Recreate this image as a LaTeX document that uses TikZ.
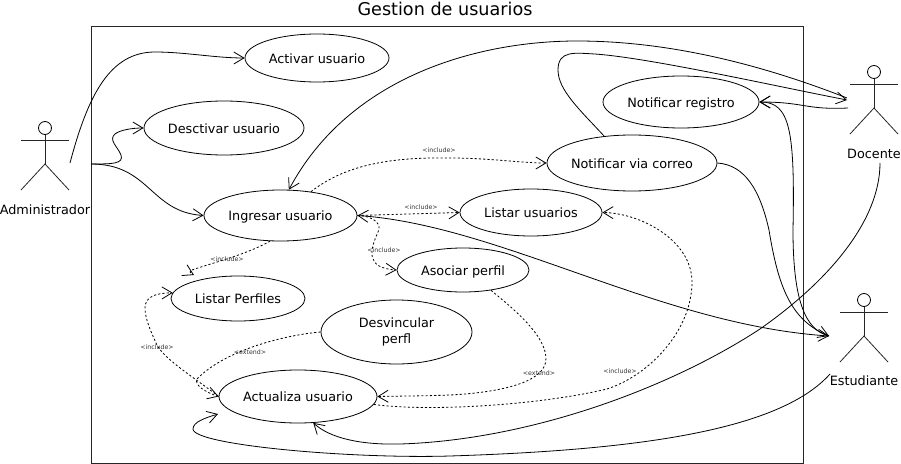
\documentclass[tikz,border=0pt]{standalone}
\usepackage{fontspec}
\setmainfont{DejaVu Sans}
\usetikzlibrary{shapes.geometric,arrows.meta}
\begin{document}
\begin{tikzpicture}
[
x=0.75pt,
y=-0.75pt,
>={Straight Barb[length=7.5pt,width=9pt]},
Boundary/.style={draw=black!85, line width=0.7pt},
Usecase/.style={ellipse,draw=black,fill=white,line width=0.6pt,inner sep=-8pt,align=center,text height=7.5pt,text depth=0pt,font=\fontsize{9.6}{12.5}\selectfont},
Head/.style={circle,draw=black,line width=0.6pt,inner sep=0pt,minimum size=9.75pt},
Limb/.style={draw=black!85,line width=0.6pt},
ActorName/.style={inner sep=0pt,font=\fontsize{9.6}{12}\selectfont},
Title/.style={inner sep=0pt,font=\fontsize{13.2}{16}\selectfont},
Tag/.style={inner sep=0pt,text=black!80,font=\fontsize{4.7}{6}\selectfont},
Solid/.style={draw=black,line width=0.6pt},
Dash/.style={draw=black,line width=0.6pt,dash pattern=on 1.6pt off 1.6pt},
]
\useasboundingbox (0,0) rectangle (901,464);

\node[Title] (title) at (445,9) {Gestion de usuarios};
\draw[Boundary] (91,26) rectangle (803,463);

\node[Usecase,minimum width=108pt,minimum height=36pt] (activar) at (317,58) {Activar usuario};
\node[Usecase,minimum width=120pt,minimum height=40.5pt] (desactivar) at (224,128) {Desctivar usuario};
\node[Usecase,minimum width=114.75pt,minimum height=38.25pt] (ingresar) at (280.5,215.5) {Ingresar usuario};
\node[Usecase,minimum width=117pt,minimum height=39pt] (registro) at (681,102) {Notificar registro};
\node[Usecase,minimum width=127.5pt,minimum height=42pt] (correo) at (632,163) {Notificar via correo};
\node[Usecase,minimum width=106.5pt,minimum height=35.25pt] (listaru) at (531,212.5) {Listar usuarios};
\node[Usecase,minimum width=99pt,minimum height=33pt] (asociar) at (463,270) {Asociar perfil};
\node[Usecase,minimum width=100.5pt,minimum height=33.75pt] (listarp) at (238,298.5) {Listar Perfiles};
\node[Usecase,text height=,text depth=,minimum width=113.25pt,minimum height=48pt] (desvincular) at (396.5,332) {Desvincular\\perfl};
\node[Usecase,minimum width=118.5pt,minimum height=39.75pt] (actualiza) at (298,396.5) {Actualiza usuario};

% actors
\node[Head] (adminHead) at (45,128) {};
\draw[Limb] (adminHead.south)--(45,164);
\draw[Limb] (21,140)--(69,140);
\draw[Limb] (21,190)--(45,164)--(69,190);
\node[ActorName] (admin) at (45,210) {Administrador};

\node[Head] (docenteHead) at (874,72) {};
\draw[Limb] (docenteHead.south)--(874,108);
\draw[Limb] (850,84)--(898,84);
\draw[Limb] (850,134)--(874,108)--(898,134);
\node[ActorName] (docente) at (874,153.5) {Docente};

\node[Head] (estudianteHead) at (864,300) {};
\draw[Limb] (estudianteHead.south)--(864,336);
\draw[Limb] (840,312)--(888,312);
\draw[Limb] (840,362)--(864,336)--(888,362);
\node[ActorName] (estudiante) at (864,381) {Estudiante};

\coordinate (adminA) at (70,163);
\coordinate (adminB) at (91,164);
\coordinate (docenteA) at (847,98);
\coordinate (docenteB) at (847,100);
\coordinate (docenteC) at (848,108);
\coordinate (docenteD) at (880,163);
\coordinate (estudianteA) at (829,336);
\coordinate (estudianteB) at (830,374);
\coordinate (actualizaTip) at (218,414);
\coordinate (listarpTip) at (194,275);

\draw[->,Solid] (adminA) .. controls (88,95) and (110,52) .. (155,52) .. controls (185,52) and (215,58) .. (activar.west);
\draw[->,Solid] (adminB) .. controls (112,164) and (124,164) .. (121,155) .. controls (118,147) and (108,140) .. (115,134) .. controls (120,130) and (132,128) .. (desactivar.west);
\draw[->,Solid] (adminB) .. controls (150,164) and (150,212) .. (ingresar.west);

\draw[->,Solid] (docenteA) .. controls (750,60) and (660,41) .. (577,41) .. controls (480,41) and (350,75) .. (ingresar.72);
\draw[->,Solid] (correo.136) .. controls (580,110) and (558,90) .. (558,70) .. controls (558,50) and (575,53) .. (595,54) .. controls (650,58) and (770,85) .. (docenteB);
\draw[->,Solid] (docenteC) .. controls (805,110) and (805,102) .. (registro.east);
\draw[->,Solid] (estudianteA) .. controls (805,330) and (793,300) .. (793,230) .. controls (795,130) and (790,102) .. (registro.east);
\draw[->,Solid] (correo.east) .. controls (745,165) and (760,190) .. (769,230) .. controls (778,285) and (790,320) .. (estudianteA);
\draw[<->,Solid] (ingresar.east) .. controls (500,225) and (660,325) .. (estudianteA);
\draw[->,Solid] (docenteD) .. controls (880,220) and (830,280) .. (760,329) .. controls (670,388) and (530,440) .. (400,444) .. controls (360,445) and (330,438) .. (actualiza.-60);
\draw[->,Solid] (estudianteB) .. controls (780,430) and (640,450) .. (450,456) .. controls (350,459) and (193,445) .. (193,429) .. controls (193,422) and (205,418) .. (actualizaTip);

\draw[->,Dash] (ingresar.38) .. controls (345,165) and (390,157) .. (450,158) .. controls (490,158) and (520,163) .. (correo.west);
\draw[->,Dash] (ingresar.east)--(listaru.west);
\draw[->,Dash] (ingresar.east) .. controls (375,216) and (382,225) .. (378,232) .. controls (370,250) and (365,268) .. (asociar.west);
\draw[->,Dash] (ingresar.-112) .. controls (245,255) and (215,262) .. (192,270) .. controls (189,271) and (190,273) .. (listarpTip);
\draw[->,Dash] (actualiza.west) .. controls (195,378) and (165,360) .. (157,345) .. controls (150,330) and (145,318) .. (145,308) .. controls (145,297) and (155,293) .. (listarp.175);
\draw[->,Dash] (desvincular.west) .. controls (285,335) and (225,350) .. (197,379) .. controls (194,385) and (205,392) .. (actualiza.west);
\draw[->,Dash] (asociar.-36) .. controls (515,310) and (545,335) .. (546,358) .. controls (547,385) and (490,393) .. (450,395) .. controls (425,396) and (400,396) .. (actualiza.east);
\draw[->,Dash] (actualiza.-6) .. controls (430,412) and (540,405) .. (607,389) .. controls (650,375) and (692,330) .. (692,282) .. controls (692,240) and (640,213) .. (listaru.east);

\node[Tag] (tagCorreo) at (439,150) {<include>};
\node[Tag] (tagListaru) at (421,207) {<include>};
\node[Tag] (tagAsociar) at (384,250) {<include>};
\node[Tag] (tagListarp) at (227,259) {<include>};
\node[Tag] (tagActualiza) at (157,347) {<include>};
\node[Tag] (tagListarb) at (620,371) {<include>};
\node[Tag] (tagDesv) at (250,352) {<extend>};
\node[Tag] (tagAsoc) at (539,373) {<extend>};
\end{tikzpicture}
\end{document}
